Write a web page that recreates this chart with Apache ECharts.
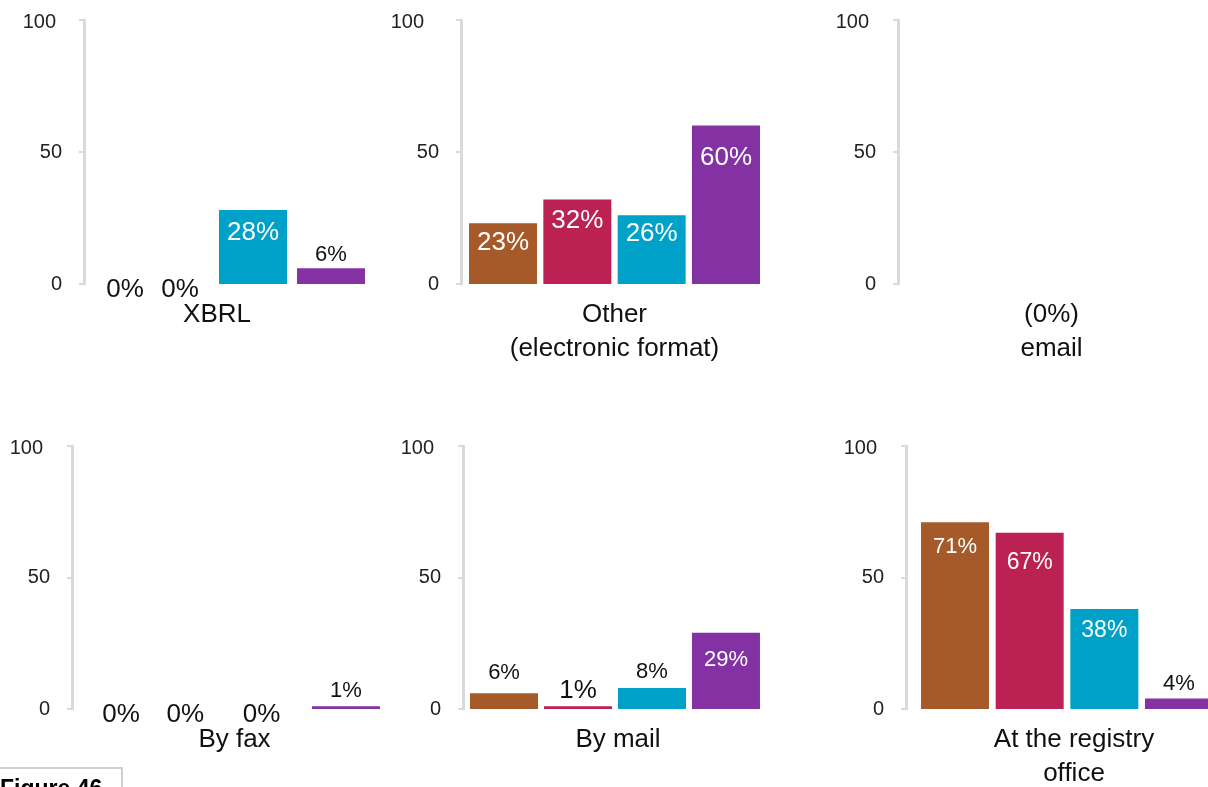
<!DOCTYPE html>
<html>
<head>
<meta charset="utf-8">
<script src="https://cdn.jsdelivr.net/npm/echarts@6/dist/echarts.min.js"></script>
<style>
html,body{margin:0;padding:0;background:#fff;}
#chart{width:1208px;height:787px;}
</style>
</head>
<body>
<div id="chart"></div>
<script>
// ---- data ----
const panels = ['XBRL', 'Other\n(electronic format)', '(0%)\nemail', 'By fax', 'By mail', 'At the registry\noffice'];
const brownValues  = [0, 23, null, 0, 6, 71];
const redValues    = [0, 32, null, 0, 1, 67];
const cyanValues   = [28, 26, null, 0, 8, 38];
const purpleValues = [6, 60, null, 1, 29, 4];
const yTickValues  = [0, 50, 100];

// ---- layout / style ----
const seriesValues = [brownValues, redValues, cyanValues, purpleValues];
const colors = ['#A65A2A', '#BB2152', '#00A1C8', '#8331A3'];
const FONT = "'Liberation Sans', Arial, Helvetica, sans-serif";
const BAR_W = 68;
const layout = [
  {left: 63,  width: 302, top: 20,  height: 264, axisX: 84,  pad100: 6,  labelPad: 6},
  {left: 469, width: 291, top: 20,  height: 264, axisX: 461, pad100: 15, labelPad: 0},
  {left: 906, width: 291, top: 20,  height: 264, axisX: 898, pad100: 7,  labelPad: 0},
  {left: 89,  width: 291, top: 446, height: 263, axisX: 72,  pad100: 7,  labelPad: 0},
  {left: 470, width: 290, top: 446, height: 263, axisX: 463, pad100: 7,  labelPad: 6},
  {left: 921, width: 292, top: 446, height: 263, axisX: 906, pad100: 7,  labelPad: 14}
];
// label style per panel per series: pos (zero/in/top), size, dist, dx
const labelCfg = [
  [{pos:'zero', dx:28}, {pos:'zero', dx:5}, {pos:'in', size:26, dist:10}, {pos:'top', size:22, dist:2}],
  [{pos:'in', size:26, dist:7}, {pos:'in', size:26, dist:8}, {pos:'in', size:26, dist:5}, {pos:'in', size:26, dist:19}],
  [{}, {}, {}, {}],
  [{pos:'zero', dx:-2}, {pos:'zero', dx:-12}, {pos:'zero', dx:-10}, {pos:'top', size:22, dist:4}],
  [{pos:'top', size:22, dist:9}, {pos:'top', size:26, dist:3}, {pos:'top', size:22, dist:5}, {pos:'in', size:22, dist:16}],
  [{pos:'in', size:22, dist:14}, {pos:'in', size:23, dist:18}, {pos:'in', size:23, dist:10}, {pos:'top', size:22, dist:4}]
];

function makeLabel(cfg) {
  const base = {show: true, formatter: '{c}%', fontFamily: FONT};
  if (cfg.pos === 'zero') {
    return Object.assign(base, {position: 'inside', offset: [cfg.dx || 0, 6], fontSize: 26, color: '#111'});
  }
  if (cfg.pos === 'in') {
    return Object.assign(base, {position: 'insideTop', distance: cfg.dist, fontSize: cfg.size, color: '#fff'});
  }
  if (cfg.pos === 'top') {
    return Object.assign(base, {position: 'top', distance: cfg.dist, fontSize: cfg.size, color: '#111'});
  }
  return {show: false};
}

const grid = [], xAxis = [], yAxis = [], series = [];
layout.forEach((g, i) => {
  grid.push({left: g.left, width: g.width, top: g.top, height: g.height,
             containLabel: false, outerBoundsMode: 'none'});
  xAxis.push({
    type: 'category', gridIndex: i, data: [panels[i]],
    axisLine: {show: false}, axisTick: {show: false}, splitLine: {show: false},
    axisLabel: {interval: 0, fontFamily: FONT, fontSize: 26, color: '#111', margin: 14, lineHeight: 34,
                padding: [0, 0, 0, g.labelPad]}
  });
  yAxis.push({
    type: 'value', gridIndex: i, min: yTickValues[0], max: yTickValues[yTickValues.length - 1], interval: 50,
    offset: g.left - g.axisX,
    axisLine: {show: true, lineStyle: {color: '#dadada', width: 3}},
    axisTick: {show: true, length: 5, lineStyle: {color: '#dadada', width: 2}},
    splitLine: {show: false},
    axisLabel: {
      margin: 22, fontFamily: FONT, fontSize: 20, color: '#222',
      formatter: v => v === 100 ? '{h|100}' : String(v),
      rich: {h: {fontFamily: FONT, fontSize: 20, color: '#222', padding: [4, g.pad100, 0, 0]}}
    }
  });
  const gapPx = (g.width - 4 * BAR_W) / 3;
  seriesValues.forEach((vals, s) => {
    const v = vals[i];
    series.push({
      type: 'bar', xAxisIndex: i, yAxisIndex: i,
      barWidth: BAR_W, barGap: (gapPx / BAR_W * 100).toFixed(1) + '%',
      itemStyle: {color: colors[s]},
      silent: true,
      data: [v === null ? null : {value: v, label: makeLabel(labelCfg[i][s])}]
    });
  });
});

const chart = echarts.init(document.getElementById('chart'), null, {renderer: 'canvas'});
chart.setOption({
  animation: false,
  backgroundColor: '#fff',
  grid, xAxis, yAxis, series,
  graphic: [
    {type: 'rect', left: -4, top: 767, shape: {width: 125, height: 40},
     style: {fill: '#fff', stroke: '#d0d0d0', lineWidth: 2}},
    {type: 'text', left: 0, top: 778,
     style: {text: 'Figure 46', font: 'bold 23px ' + FONT, fill: '#000'}}
  ]
});
</script>
</body>
</html>
